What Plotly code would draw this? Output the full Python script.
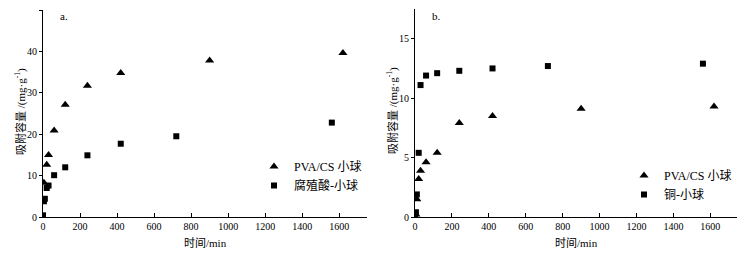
import plotly.graph_objects as go

# Panel a: PVA/CS beads vs humic-acid beads
t_a_pva = [5, 20, 30, 60, 120, 240, 420, 900, 1620]
q_a_pva = [8.3, 12.6, 15.0, 20.9, 27.1, 31.7, 34.8, 37.8, 39.6]
t_a_ha = [0, 5, 10, 20, 30, 60, 120, 240, 420, 720, 1560]
q_a_ha = [0.4, 3.8, 4.4, 7.0, 7.6, 10.1, 12.0, 14.9, 17.7, 19.5, 22.8]

# Panel b: PVA/CS beads vs Cu beads
t_b_pva = [5, 10, 20, 30, 60, 120, 240, 420, 900, 1620]
q_b_pva = [0.2, 1.5, 3.2, 3.9, 4.6, 5.4, 7.9, 8.5, 9.1, 9.3]
t_b_cu = [0, 5, 10, 20, 30, 60, 120, 240, 420, 720, 1560]
q_b_cu = [0.1, 0.4, 1.9, 5.4, 11.1, 11.9, 12.1, 12.3, 12.5, 12.7, 12.9]

name_pva = "PVA/CS 小球"
name_ha = "腐殖酸-小球"
name_cu = "铜-小球"
xlabel = "时间/min"
ylabel = "吸附容量 /(mg·g<sup>-1</sup>)"

# page has an 8px body margin; work in window pixel coords and convert
OFF = 8
W, H = 737, 248
def px(x):
    return (x - OFF) / W
def py(y):
    return 1 - (y - OFF) / H

FONT = "'Liberation Serif', 'Times New Roman', 'Noto Sans CJK SC', serif"

fig = go.Figure()
fig.add_trace(go.Scatter(x=t_a_pva, y=q_a_pva, mode="markers", name=name_pva,
                         marker=dict(symbol="triangle-up", size=8, color="black"),
                         xaxis="x", yaxis="y", legend="legend"))
fig.add_trace(go.Scatter(x=t_a_ha, y=q_a_ha, mode="markers", name=name_ha,
                         marker=dict(symbol="square", size=6, color="black"),
                         xaxis="x", yaxis="y", legend="legend"))
fig.add_trace(go.Scatter(x=t_b_pva, y=q_b_pva, mode="markers", name=name_pva,
                         marker=dict(symbol="triangle-up", size=8, color="black"),
                         xaxis="x2", yaxis="y2", legend="legend2"))
fig.add_trace(go.Scatter(x=t_b_cu, y=q_b_cu, mode="markers", name=name_cu,
                         marker=dict(symbol="square", size=6, color="black"),
                         xaxis="x2", yaxis="y2", legend="legend2"))

ydom = [py(217), py(10)]
ydom2 = [py(217), py(9)]
xcommon = dict(range=[0, 1750], tickvals=list(range(0, 1601, 200)), showline=True,
               linecolor="black", linewidth=1, ticks="inside", ticklen=4,
               tickcolor="black", showgrid=False, zeroline=False, automargin=False,
               tickfont=dict(family=FONT, size=10, color="black"), fixedrange=True)
ycommon = dict(showline=True, linecolor="black", linewidth=1, ticks="outside",
               ticklen=3, tickcolor="black", showgrid=False, zeroline=False, automargin=False,
               tickfont=dict(family=FONT, size=10, color="black"), fixedrange=True)

fig.update_layout(
    width=W, height=H,
    margin=dict(l=0, r=0, t=0, b=0, autoexpand=False),
    paper_bgcolor="white", plot_bgcolor="white",
    xaxis=dict(domain=[px(43), px(367)], anchor="y", **xcommon),
    yaxis=dict(domain=ydom, anchor="x", range=[0, 50], tickvals=[0, 10, 20, 30, 40, 50], **ycommon),
    xaxis2=dict(domain=[px(415), px(738)], anchor="y2", **xcommon),
    yaxis2=dict(domain=ydom2, anchor="x2", range=[0, 17.5], tickvals=[0, 5, 10, 15], **ycommon),
    legend=dict(x=px(254), y=py(152), xanchor="left", yanchor="top",
                font=dict(family=FONT, size=12, color="black"),
                bgcolor="rgba(0,0,0,0)", itemwidth=30, tracegroupgap=0),
    legend2=dict(x=px(624), y=py(161), xanchor="left", yanchor="top",
                 font=dict(family=FONT, size=12, color="black"),
                 bgcolor="rgba(0,0,0,0)", itemwidth=30, tracegroupgap=0),
    showlegend=True,
    annotations=[
        dict(text="a.", x=px(58), y=py(16), xref="paper", yref="paper", showarrow=False,
             font=dict(family=FONT, size=11, color="black"), xanchor="left", yanchor="middle"),
        dict(text="b.", x=px(430), y=py(16), xref="paper", yref="paper", showarrow=False,
             font=dict(family=FONT, size=11, color="black"), xanchor="left", yanchor="middle"),
        dict(text=xlabel, x=px(205), y=py(243), xref="paper", yref="paper", showarrow=False,
             font=dict(family=FONT, size=11, color="black"), xanchor="center", yanchor="middle"),
        dict(text=xlabel, x=px(576), y=py(243), xref="paper", yref="paper", showarrow=False,
             font=dict(family=FONT, size=11, color="black"), xanchor="center", yanchor="middle"),
        dict(text=ylabel, x=px(20), y=py(112), xref="paper", yref="paper", showarrow=False,
             textangle=-90, font=dict(family=FONT, size=11, color="black"),
             xanchor="center", yanchor="middle"),
        dict(text=ylabel, x=px(392), y=py(110), xref="paper", yref="paper", showarrow=False,
             textangle=-90, font=dict(family=FONT, size=11, color="black"),
             xanchor="center", yanchor="middle"),
    ],
)

fig.write_html("out.html")
